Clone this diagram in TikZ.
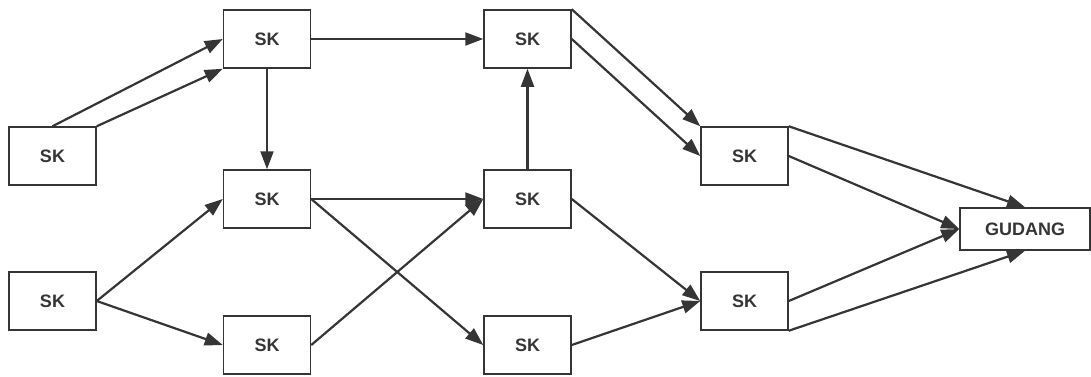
\documentclass[tikz,border=0pt]{standalone}
\usepackage{fontspec}
\setmainfont{Liberation Sans}
\usetikzlibrary{arrows.meta}
\definecolor{linegray}{HTML}{353535}

\begin{document}
\begin{tikzpicture}[
x=1pt, y=-1pt,
box/.style={
  draw=linegray,
  line width=1.5pt,
  minimum width=87pt,
  minimum height=58pt,
  inner sep=0pt,
  text=linegray,
  font=\fontsize{18}{22}\selectfont\bfseries
  },
link/.style={
  ->,
  draw=linegray,
  line width=2.2pt
  },
>={Triangle[length=18pt,width=13pt]}
]
\useasboundingbox (0,0) rectangle (1091,376);

% sumber
\node[box] (l1) at (52.5,156) {SK};
\node[box] (l2) at (52.5,301) {SK};
% kolom 2
\node[box] (c2a) at (267,39) {SK};
\node[box] (c2b) at (267,199) {SK};
\node[box] (c2c) at (267,345) {SK};
% kolom 3
\node[box] (c3a) at (527.5,39) {SK};
\node[box] (c3b) at (527.5,199) {SK};
\node[box] (c3c) at (527.5,345) {SK};
% kolom 4
\node[box] (c4a) at (744.5,156) {SK};
\node[box] (c4b) at (744.5,301) {SK};
\node[box, minimum width=130pt, minimum height=42pt] (gudang) at (1025,229) {GUDANG};

\foreach \a/\b in {l1.north/c2a.west, l1.north east/c2a.south west,
  l2.east/c2b.west, l2.east/c2c.west,
  c2a.east/c3a.west, c2a.south/c2b.north,
  c2b.east/c3b.west, c2b.east/c3c.west, c2c.east/c3b.west,
  c3b.north/c3a.south,
  c3a.north east/c4a.north west, c3a.east/c4a.west,
  c3b.east/c4b.west, c3c.east/c4b.west,
  c4a.north east/gudang.north, c4a.east/gudang.west,
  c4b.east/gudang.west, c4b.south east/gudang.south}
  \draw[link] (\a) -- (\b);

\end{tikzpicture}
\end{document}
